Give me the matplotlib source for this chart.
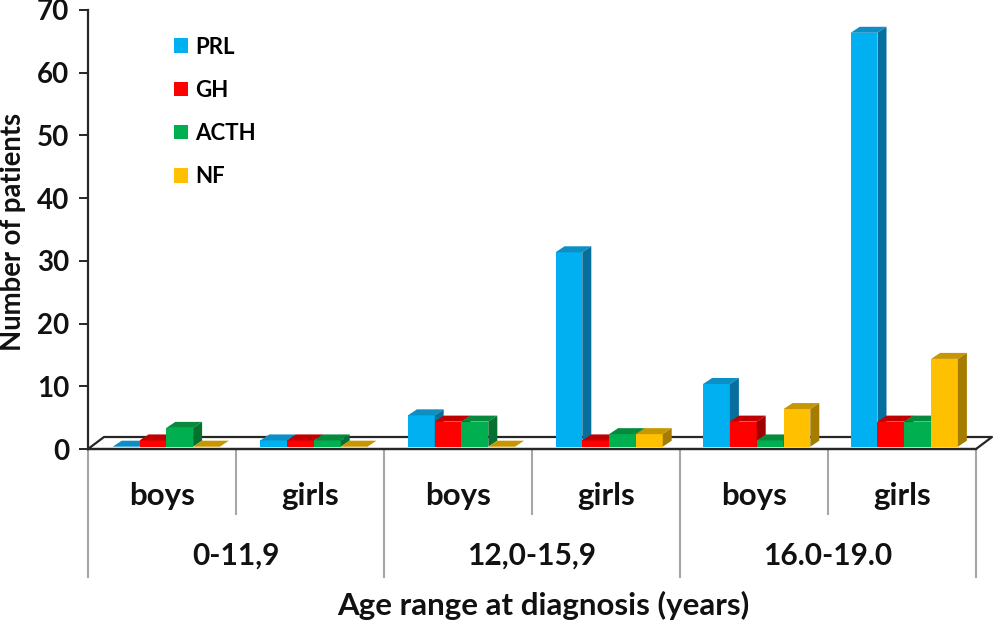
import matplotlib
matplotlib.use("Agg")
import matplotlib.pyplot as plt
from matplotlib.patches import Polygon, Patch

plt.rcParams["font.family"] = ["Lato", "DejaVu Sans"]
plt.rcParams["font.weight"] = "bold"

# valeurs
sexes = ["boys", "girls", "boys", "girls", "boys", "girls"]
age_ranges = ["0-11,9", "12,0-15,9", "16.0-19.0"]
prl = [0, 1, 5, 31, 10, 66]
gh = [1, 1, 4, 1, 4, 4]
acth = [3, 1, 4, 2, 1, 4]
nf = [0, 0, 0, 2, 6, 14]

series = [
    ("PRL", prl, "#00b0f0", "#0b8fc4", "#066f9c"),
    ("GH", gh, "#ff0000", "#c00000", "#a00000"),
    ("ACTH", acth, "#00b050", "#078a3e", "#05702f"),
    ("NF", nf, "#ffc000", "#c89600", "#a67c00"),
]

W, H = 993, 623
LEFT, RIGHT, BASE, TOP = 88, 976, 449, 10
PX_X = (RIGHT - LEFT) / 6
PX_Y = (BASE - TOP) / 70


def add_bars(ax, name, values, rank, colors):
    front, top, side = colors
    width = 26.8 / PX_X
    start = 24.7 / PX_X
    pitch = 147.6 / PX_X
    dx = 9 / PX_X
    dy = 6 / PX_Y
    bottom = 2.3 / PX_Y
    xs = [i * pitch + start + rank * width for i in range(len(values))]
    ax.bar(xs, values, width, bottom=bottom, align="edge", color=front,
           zorder=3 + rank, clip_on=False)
    for x, v in zip(xs, values):
        y = v + bottom
        ax.add_patch(Polygon(
            [(x, y), (x + width, y), (x + width + dx, y + dy), (x + dx, y + dy)],
            closed=True, fc=top, ec="none", zorder=3 + rank, clip_on=False))
        ax.add_patch(Polygon(
            [(x + width, bottom), (x + width + dx, bottom + dy),
             (x + width + dx, y + dy), (x + width, y)],
            closed=True, fc=side, ec="none", zorder=3 + rank, clip_on=False))


fig = plt.figure(figsize=(W / 100, H / 100), dpi=100)
ax = fig.add_axes([LEFT / W, 1 - BASE / H, (RIGHT - LEFT) / W, (BASE - TOP) / H])
ax.set_xlim(0, 6)
ax.set_ylim(0, 70)

for rank, (name, values, front, top, side) in enumerate(series):
    add_bars(ax, name, values, rank, (front, top, side))

# plancher en perspective
floor_dx = 16 / PX_X
floor_dy = 12 / PX_Y
line_color = "#262626"
ax.plot([0, floor_dx, 6 + floor_dx, 6, 0], [0, floor_dy, floor_dy, 0, 0],
        color=line_color, lw=1.6, clip_on=False, zorder=2)
ax.plot([0, 6], [0, 0], color=line_color, lw=1.6, clip_on=False, zorder=8)

# separateurs sous l'axe
for i in range(7):
    low = -128 / PX_Y if i % 2 == 0 else -65 / PX_Y
    ax.plot([i, i], [0, low], color="#a6a6a6", lw=1.5, clip_on=False, zorder=1)

for i, label in enumerate(sexes):
    ax.text(i + 0.5, -47 / PX_Y, label, ha="center", va="center", fontsize=22.5,
            color="#111111")
for i, label in enumerate(age_ranges):
    ax.text(2 * i + 1, -107 / PX_Y, label, ha="center", va="center", fontsize=21.5,
            color="#111111")

for side in ["top", "right", "bottom"]:
    ax.spines[side].set_visible(False)
ax.spines["left"].set_color(line_color)
ax.spines["left"].set_linewidth(1.6)
ax.set_xticks([])
ax.set_yticks(range(0, 71, 10))
ax.tick_params(axis="y", length=6.5, width=1.4, color=line_color, pad=7,
               labelsize=20, labelcolor="#111111")

fig.text(13 / W, 1 - 232 / H, "Number of patients", rotation=90, ha="center",
         va="center", fontsize=19.8, color="#111111")
fig.text(543 / W, 1 - 605 / H, "Age range at diagnosis (years)", ha="center",
         va="center", fontsize=22.5, color="#111111")

handles = [Patch(fc=s[2], ec="none", label=s[0]) for s in series]
ax.legend(handles=handles, loc="upper left", frameon=False,
          bbox_to_anchor=(174 / W, 1 - 36.5 / H), bbox_transform=fig.transFigure,
          handlelength=0.63, handleheight=0.62, handletextpad=0.32,
          labelspacing=1.0, fontsize=16, borderpad=0, borderaxespad=0)

fig.savefig("out.png", dpi=100)
